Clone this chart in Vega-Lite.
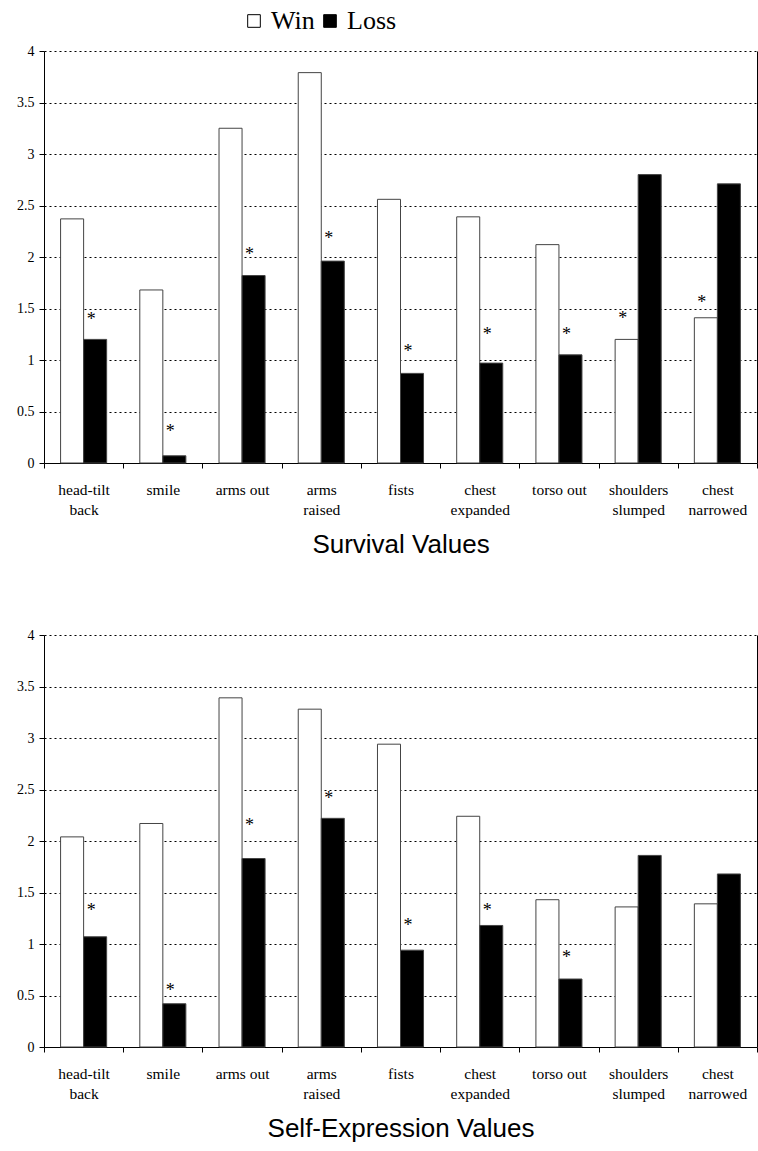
{
  "$schema": "https://vega.github.io/schema/vega-lite/v6.json",
  "padding": {"left": 0, "top": 8, "right": 0, "bottom": 0},
  "background": "white",
  "spacing": 70,
  "config": {
    "view": {"stroke": null},
    "font": "Liberation Serif",
    "axis": {"domainColor": "black", "tickColor": "black", "labelColor": "black", "titleColor": "black"}
  },
  "datasets": {
    "survival": [
      {"posture": "head-tilt|back", "outcome": "Win", "value": 2.37, "star": null},
      {"posture": "head-tilt|back", "outcome": "Loss", "value": 1.20, "star": 1.42},
      {"posture": "smile", "outcome": "Win", "value": 1.68, "star": null},
      {"posture": "smile", "outcome": "Loss", "value": 0.07, "star": 0.33},
      {"posture": "arms out", "outcome": "Win", "value": 3.25, "star": null},
      {"posture": "arms out", "outcome": "Loss", "value": 1.82, "star": 2.05},
      {"posture": "arms|raised", "outcome": "Win", "value": 3.79, "star": null},
      {"posture": "arms|raised", "outcome": "Loss", "value": 1.96, "star": 2.20},
      {"posture": "fists", "outcome": "Win", "value": 2.56, "star": null},
      {"posture": "fists", "outcome": "Loss", "value": 0.87, "star": 1.11},
      {"posture": "chest|expanded", "outcome": "Win", "value": 2.39, "star": null},
      {"posture": "chest|expanded", "outcome": "Loss", "value": 0.97, "star": 1.27},
      {"posture": "torso out", "outcome": "Win", "value": 2.12, "star": null},
      {"posture": "torso out", "outcome": "Loss", "value": 1.05, "star": 1.27},
      {"posture": "shoulders|slumped", "outcome": "Win", "value": 1.20, "star": 1.43},
      {"posture": "shoulders|slumped", "outcome": "Loss", "value": 2.80, "star": null},
      {"posture": "chest|narrowed", "outcome": "Win", "value": 1.41, "star": 1.58},
      {"posture": "chest|narrowed", "outcome": "Loss", "value": 2.71, "star": null}
    ],
    "selfexp": [
      {"posture": "head-tilt|back", "outcome": "Win", "value": 2.04, "star": null},
      {"posture": "head-tilt|back", "outcome": "Loss", "value": 1.07, "star": 1.35},
      {"posture": "smile", "outcome": "Win", "value": 2.17, "star": null},
      {"posture": "smile", "outcome": "Loss", "value": 0.42, "star": 0.57},
      {"posture": "arms out", "outcome": "Win", "value": 3.39, "star": null},
      {"posture": "arms out", "outcome": "Loss", "value": 1.83, "star": 2.17},
      {"posture": "arms|raised", "outcome": "Win", "value": 3.28, "star": null},
      {"posture": "arms|raised", "outcome": "Loss", "value": 2.22, "star": 2.44},
      {"posture": "fists", "outcome": "Win", "value": 2.94, "star": null},
      {"posture": "fists", "outcome": "Loss", "value": 0.94, "star": 1.20},
      {"posture": "chest|expanded", "outcome": "Win", "value": 2.24, "star": null},
      {"posture": "chest|expanded", "outcome": "Loss", "value": 1.18, "star": 1.35},
      {"posture": "torso out", "outcome": "Win", "value": 1.43, "star": null},
      {"posture": "torso out", "outcome": "Loss", "value": 0.66, "star": 0.89},
      {"posture": "shoulders|slumped", "outcome": "Win", "value": 1.36, "star": null},
      {"posture": "shoulders|slumped", "outcome": "Loss", "value": 1.86, "star": null},
      {"posture": "chest|narrowed", "outcome": "Win", "value": 1.39, "star": null},
      {"posture": "chest|narrowed", "outcome": "Loss", "value": 1.68, "star": null}
    ]
  },
  "resolve": {"legend": {"fill": "independent"}},
  "vconcat": [
    {
      "width": 713,
      "height": 412,
      "data": {"name": "survival"},
      "layer": [
        {
          "mark": {"type": "bar", "stroke": "#444", "strokeWidth": 1},
          "encoding": {
            "x": {
              "field": "posture", "type": "nominal",
              "scale": {"domain": ["head-tilt|back", "smile", "arms out", "arms|raised", "fists", "chest|expanded", "torso out", "shoulders|slumped", "chest|narrowed"], "paddingInner": 0, "paddingOuter": 0},
              "axis": {
                "title": "Survival Values", "titleFont": "Liberation Sans", "titleFontSize": 26, "titleFontWeight": "normal", "titlePadding": 14,
                "labelFont": "Liberation Serif", "labelFontSize": 15.5, "labelLineHeight": 20, "labelPadding": 14, "labelAngle": 0,
                "labelOverlap": false, "labelExpr": "split(datum.label, '|')",
                "tickBand": "extent", "tickSize": 5, "grid": false
              }
            },
            "xOffset": {"field": "outcome", "type": "nominal", "scale": {"domain": ["Win", "Loss"], "paddingInner": 0, "paddingOuter": 0.72}},
            "y": {
              "field": "value", "type": "quantitative",
              "scale": {"domain": [0, 4]},
              "axis": {
                "title": null, "values": [0, 0.5, 1, 1.5, 2, 2.5, 3, 3.5, 4], "format": "~g",
                "labelFont": "Liberation Serif", "labelFontSize": 14, "labelPadding": 5, "tickSize": 5,
                "grid": true, "gridColor": "black", "gridDash": [2, 3], "gridWidth": 1,
                "minExtent": 44, "maxExtent": 44
              }
            },
            "fill": {
              "field": "outcome", "type": "nominal",
              "scale": {"domain": ["Win", "Loss"], "range": ["#ffffff", "#000000"]},
              "legend": {
                "title": null, "orient": "none", "direction": "horizontal", "legendX": 197, "legendY": -43,
                "symbolType": "square", "symbolSize": 160, "symbolStrokeColor": "black", "symbolStrokeWidth": 1, "symbolOpacity": 1,
                "labelFont": "Liberation Serif", "labelFontSize": 26, "labelColor": "black", "labelOffset": 4, "columnPadding": 2
              }
            }
          }
        },
        {
          "transform": [{"filter": "isValid(datum.star)"}],
          "mark": {"type": "text", "text": "*", "font": "Liberation Serif", "fontSize": 18, "dx": -4, "dy": 3, "baseline": "middle", "color": "black"},
          "encoding": {
            "x": {"field": "posture", "type": "nominal"},
            "xOffset": {"field": "outcome", "type": "nominal"},
            "y": {
              "field": "star", "type": "quantitative",
              "axis": {"orient": "right", "title": null, "labels": false, "ticks": false, "grid": false, "domain": true, "domainColor": "black", "domainWidth": 1, "minExtent": 0, "maxExtent": 0}
            }
          }
        }
      ],
      "resolve": {"axis": {"y": "independent"}}
    },
    {
      "width": 713,
      "height": 412,
      "data": {"name": "selfexp"},
      "layer": [
        {
          "mark": {"type": "bar", "stroke": "#444", "strokeWidth": 1},
          "encoding": {
            "x": {
              "field": "posture", "type": "nominal",
              "scale": {"domain": ["head-tilt|back", "smile", "arms out", "arms|raised", "fists", "chest|expanded", "torso out", "shoulders|slumped", "chest|narrowed"], "paddingInner": 0, "paddingOuter": 0},
              "axis": {
                "title": "Self-Expression Values", "titleFont": "Liberation Sans", "titleFontSize": 26, "titleFontWeight": "normal", "titlePadding": 14,
                "labelFont": "Liberation Serif", "labelFontSize": 15.5, "labelLineHeight": 20, "labelPadding": 14, "labelAngle": 0,
                "labelOverlap": false, "labelExpr": "split(datum.label, '|')",
                "tickBand": "extent", "tickSize": 5, "grid": false
              }
            },
            "xOffset": {"field": "outcome", "type": "nominal", "scale": {"domain": ["Win", "Loss"], "paddingInner": 0, "paddingOuter": 0.72}},
            "y": {
              "field": "value", "type": "quantitative",
              "scale": {"domain": [0, 4]},
              "axis": {
                "title": null, "values": [0, 0.5, 1, 1.5, 2, 2.5, 3, 3.5, 4], "format": "~g",
                "labelFont": "Liberation Serif", "labelFontSize": 14, "labelPadding": 5, "tickSize": 5,
                "grid": true, "gridColor": "black", "gridDash": [2, 3], "gridWidth": 1,
                "minExtent": 44, "maxExtent": 44
              }
            },
            "fill": {
              "field": "outcome", "type": "nominal",
              "scale": {"domain": ["Win", "Loss"], "range": ["#ffffff", "#000000"]},
              "legend": null
            }
          }
        },
        {
          "transform": [{"filter": "isValid(datum.star)"}],
          "mark": {"type": "text", "text": "*", "font": "Liberation Serif", "fontSize": 18, "dx": -4, "dy": 3, "baseline": "middle", "color": "black"},
          "encoding": {
            "x": {"field": "posture", "type": "nominal"},
            "xOffset": {"field": "outcome", "type": "nominal"},
            "y": {
              "field": "star", "type": "quantitative",
              "axis": {"orient": "right", "title": null, "labels": false, "ticks": false, "grid": false, "domain": true, "domainColor": "black", "domainWidth": 1, "minExtent": 0, "maxExtent": 0}
            }
          }
        }
      ],
      "resolve": {"axis": {"y": "independent"}}
    }
  ]
}
